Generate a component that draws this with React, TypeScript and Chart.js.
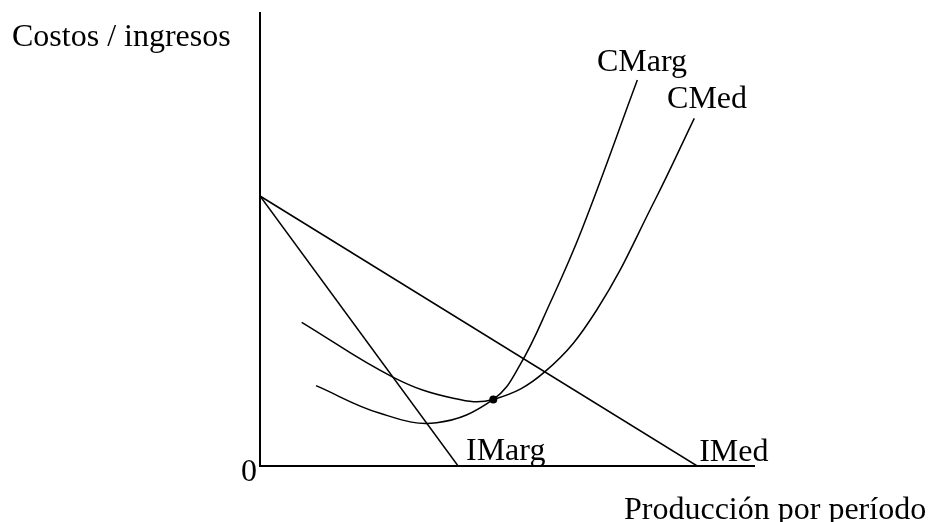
import React, { useEffect, useRef } from "react";
import { Chart, registerables } from "chart.js";

Chart.register(...registerables);

// Demand (average revenue) line
const imedX = [0, 88.5];
const imedY = [59.6, 0];
// Marginal revenue line
const imargX = [0, 40.1];
const imargY = [59.6, 0];
// Average cost curve
const cmedX = [8.44, 26.98, 39.13, 47.23, 57.69, 68.16, 79.96, 87.91];
const cmedY = [31.72, 19.58, 14.94, 14.7, 20.82, 34.44, 58.72, 76.75];
// Marginal cost curve
const cmargX = [11.34, 24.29, 35.77, 47.23, 52.63, 58.7, 65.12, 76.38];
const cmargY = [17.73, 11.63, 9.56, 14.7, 22.3, 35.92, 52.1, 85.21];
// Intersection point
const dotX = [47.23];
const dotY = [14.7];

const curveLabels = ["CMarg", "CMed", "IMarg", "IMed"];
const labelX = [68.2, 82.4, 41.7, 88.9];
const labelY = [87.3, 79.0, 1.3, 1.0];

const yTitle = "Costos / ingresos";
const xTitle = "Producción por período";
const originLabel = "0";

const FONT = "32px 'Liberation Serif', 'Times New Roman', serif";

const pts = (xs: number[], ys: number[]) => xs.map((x, i) => ({ x, y: ys[i] }));

const labelPlugin = {
  id: "econLabels",
  afterDraw(chart: any) {
    const { ctx, chartArea, scales } = chart;
    ctx.save();
    ctx.font = FONT;
    ctx.fillStyle = "#000";
    ctx.textBaseline = "alphabetic";
    ctx.textAlign = "left";
    curveLabels.forEach((t, i) => {
      ctx.fillText(t, scales.x.getPixelForValue(labelX[i]), scales.y.getPixelForValue(labelY[i]));
    });
    ctx.fillText(yTitle, chartArea.left - 248, chartArea.top + 33);
    ctx.fillText(xTitle, chartArea.right - 130, chartArea.bottom + 53);
    ctx.textAlign = "right";
    ctx.fillText(originLabel, chartArea.left - 3, chartArea.bottom + 15);
    ctx.restore();
  },
};

export default function App() {
  const ref = useRef<HTMLCanvasElement | null>(null);

  useEffect(() => {
    if (!ref.current) return;
    const lineStyle = {
      showLine: true,
      borderColor: "#000",
      backgroundColor: "#000",
      borderWidth: 1.5,
      pointRadius: 0,
      fill: false,
    };
    const chart = new Chart(ref.current, {
      type: "scatter",
      data: {
        datasets: [
          { ...lineStyle, label: "IMed", data: pts(imedX, imedY), tension: 0 },
          { ...lineStyle, label: "IMarg", data: pts(imargX, imargY), tension: 0 },
          { ...lineStyle, label: "CMed", data: pts(cmedX, cmedY), tension: 0.4 },
          { ...lineStyle, label: "CMarg", data: pts(cmargX, cmargY), tension: 0.4 },
          {
            label: "Punto",
            data: pts(dotX, dotY),
            showLine: false,
            pointRadius: 4,
            pointBackgroundColor: "#000",
            pointBorderColor: "#000",
            pointBorderWidth: 0,
          },
        ],
      } as any,
      options: {
        responsive: false,
        animation: false,
        events: [],
        layout: { padding: { left: 260, top: 13, right: 174, bottom: 56 } },
        plugins: { legend: { display: false }, tooltip: { enabled: false } },
        scales: {
          x: {
            type: "linear",
            min: 0,
            max: 100,
            grid: { display: false },
            ticks: { display: false },
            border: { display: true, color: "#000", width: 2 },
            afterFit: (s: any) => { s.height = 0; },
          },
          y: {
            type: "linear",
            min: 0,
            max: 100,
            grid: { display: false },
            ticks: { display: false },
            border: { display: true, color: "#000", width: 2 },
            afterFit: (s: any) => { s.width = 0; },
          },
        },
      } as any,
      plugins: [labelPlugin],
    });
    return () => chart.destroy();
  }, []);

  return (
    <div style={{ position: "absolute", left: 0, top: 0, width: 928, height: 522, background: "#fff" }}>
      <canvas ref={ref} width={928} height={522} style={{ display: "block" }} />
    </div>
  );
}
